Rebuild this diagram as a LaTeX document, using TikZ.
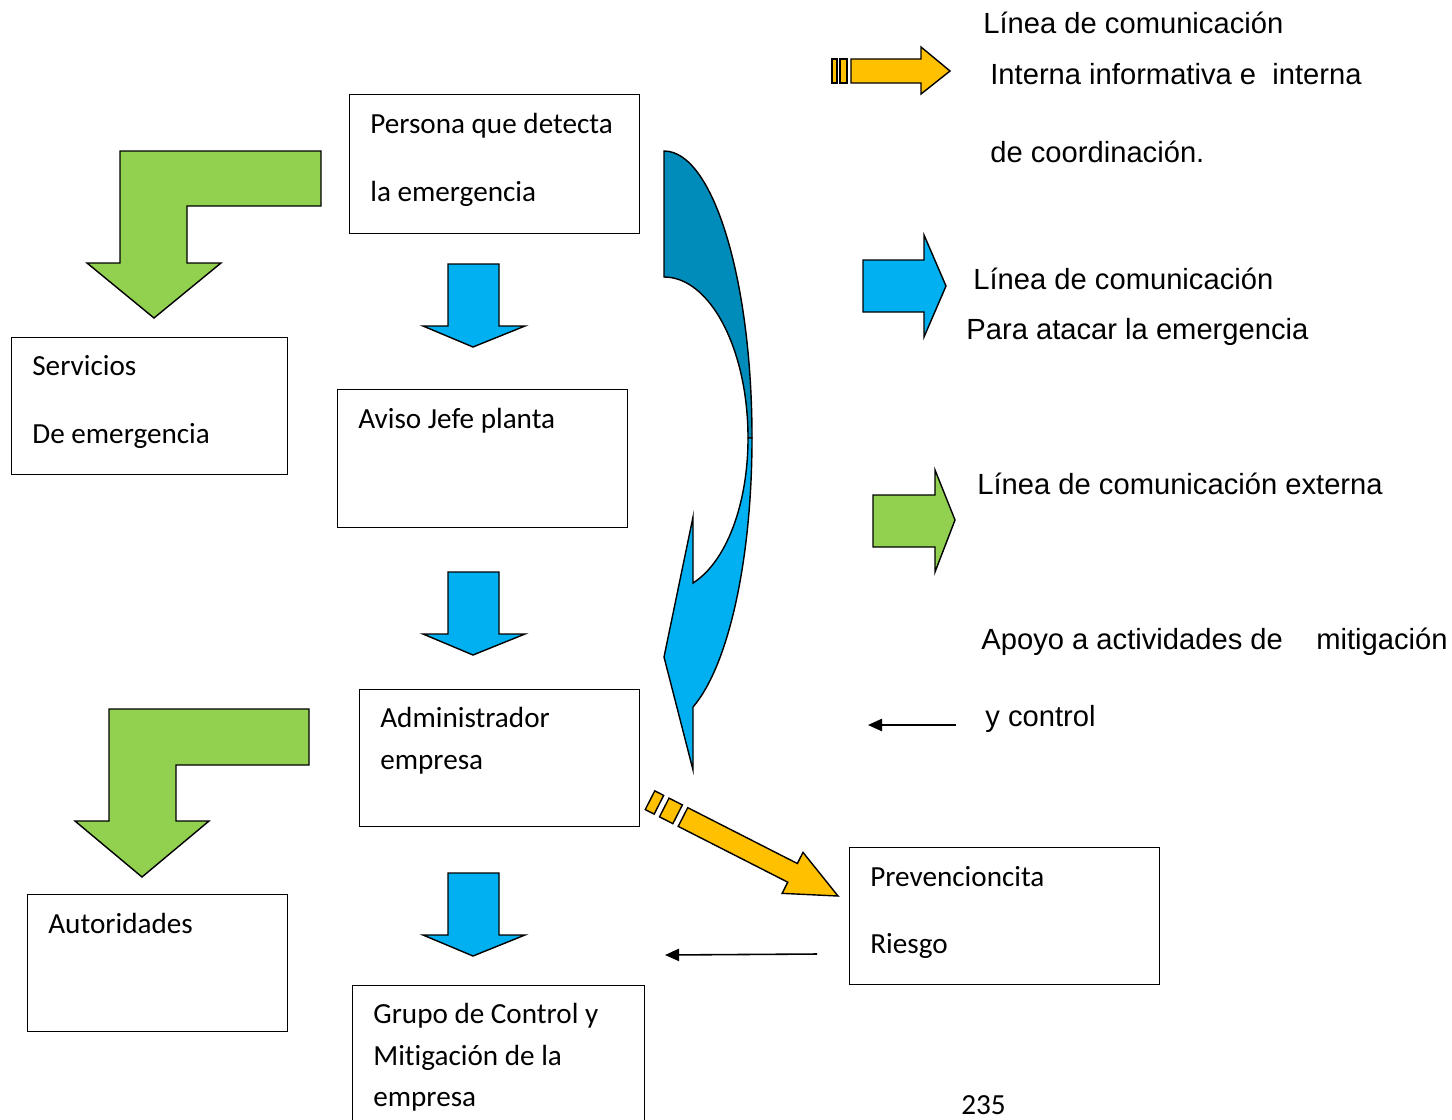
\documentclass[tikz,border=0pt]{standalone}
\usepackage{fontspec}
\setmainfont{Carlito}[Ligatures=NoCommon]
\newfontfamily\arialfont{Liberation Sans}
\usepackage{tikz}
\usetikzlibrary{arrows.meta}
\definecolor{lightblue}{RGB}{0,176,240}
\definecolor{darkblue}{RGB}{0,140,186}
\definecolor{leafgreen}{RGB}{146,208,80}
\definecolor{gold}{RGB}{255,192,0}
\tikzstyle{box}=[draw=black, line width=0.8pt, anchor=north west, inner sep=0pt]
\tikzstyle{boxtext}=[anchor=base west, inner sep=0pt, font=\fontsize{16.6}{20}\selectfont]
\tikzstyle{legend}=[anchor=base west, inner sep=0pt, font=\arialfont\fontsize{16.6}{20}\selectfont]
\tikzstyle{blockarrow}=[draw=black, line width=0.8pt, line join=miter]
\tikzstyle{thinarrow}=[line width=0.9pt, -{Triangle[length=8pt, width=7pt]}]

\begin{document}
\begin{tikzpicture}[x=0.02cm, y=-0.02cm]
\useasboundingbox (0,0) rectangle (1452,1119);
\clip (0,0) rectangle (1452,1119);

% boxes
\node[box, minimum width=5.8cm, minimum height=2.78cm] (persona) at (349,94) {};
\node[box, minimum width=5.52cm, minimum height=2.74cm] (servicios) at (11,337) {};
\node[box, minimum width=5.8cm, minimum height=2.76cm] (aviso) at (337,389) {};
\node[box, minimum width=5.6cm, minimum height=2.74cm] (admin) at (359,689) {};
\node[box, minimum width=5.2cm, minimum height=2.74cm] (autoridades) at (27,894) {};
\node[box, minimum width=5.84cm, minimum height=3.2cm] (grupo) at (352,985) {};
\node[box, minimum width=6.2cm, minimum height=2.74cm] (prevencion) at (849,847) {};

\node[boxtext] (persona-1) at (370,133) {Persona que detecta};
\node[boxtext] (persona-2) at (370,201) {la emergencia};
\node[boxtext] (servicios-1) at (32,375) {Servicios};
\node[boxtext] (servicios-2) at (32,443) {De emergencia};
\node[boxtext] (aviso-1) at (358,428) {Aviso Jefe planta};
\node[boxtext] (admin-1) at (380,727) {Administrador};
\node[boxtext] (admin-2) at (380,769) {empresa};
\node[boxtext] (autoridades-1) at (48,933) {Autoridades};
\node[boxtext] (grupo-1) at (373,1023) {Grupo de Control y};
\node[boxtext] (grupo-2) at (373,1065) {Mitigación de la};
\node[boxtext] (grupo-3) at (373,1106) {empresa};
\node[boxtext] (prevencion-1) at (870,886) {Prevencioncita};
\node[boxtext] (prevencion-2) at (870,953) {Riesgo};
\node[boxtext] (pagina) at (961,1114) {235};

% legend
\node[legend] (interna-1) at (983,33) {Línea de comunicación};
\node[legend] (interna-2) at (990,84) {Interna informativa e \ interna};
\node[legend] (interna-3) at (990,162) {de coordinación.};
\node[legend] (atacar-1) at (973,289) {Línea de comunicación};
\node[legend] (atacar-2) at (966,339) {Para atacar la emergencia};
\node[legend] (externa-1) at (977,494) {Línea de comunicación externa};
\node[legend] (apoyo-1) at (981,649) {Apoyo a actividades de\hspace{19pt}mitigación};
\node[legend] (apoyo-2) at (985,726) {y control};

% blue arrows down
\draw[blockarrow, fill=lightblue] (448,264) -- (499,264) -- (499,326) -- (525,326) -- (473,347) -- (423,326) -- (448,326) -- cycle;
\draw[blockarrow, fill=lightblue] (448,572) -- (499,572) -- (499,634) -- (525,634) -- (473,655) -- (423,634) -- (448,634) -- cycle;
\draw[blockarrow, fill=lightblue] (448,873) -- (499,873) -- (499,935) -- (525,935) -- (473,956) -- (423,935) -- (448,935) -- cycle;

% green bent arrows
\draw[blockarrow, fill=leafgreen] (120,151) -- (321,151) -- (321,206) -- (187,206) -- (187,263) -- (221,263) -- (154,318) -- (87,263) -- (120,263) -- cycle;
\draw[blockarrow, fill=leafgreen] (109,709) -- (309,709) -- (309,765) -- (176,765) -- (176,821) -- (209,821) -- (142,877) -- (75,821) -- (109,821) -- cycle;

% curved arrow
\draw[blockarrow, fill=darkblue] (664,151) .. controls (713,151) and (752,280) .. (752,438) -- (748,438) .. controls (748,349) and (710,277) .. (664,277) -- cycle;
\draw[blockarrow, fill=lightblue] (748,438) .. controls (748,505) and (726,562) .. (693,583) -- (693,517) -- (664,657) -- (693,770) -- (693,707) .. controls (729,665) and (752,558) .. (752,438) -- cycle;

% striped arrow to prevencion
\begin{scope}[shift={(838,896)}, rotate=-27]
\draw[blockarrow, fill=gold] (-211,-10.5) rectangle (-201,10.5);
\draw[blockarrow, fill=gold] (-195,-10.5) rectangle (-180,10.5);
\draw[blockarrow, fill=gold] (-174,-10.5) -- (-51,-10.5) -- (-51,-23) -- (0,0) -- (-51,23) -- (-51,10.5) -- (-174,10.5) -- cycle;
\end{scope}

% legend arrows
\draw[blockarrow, fill=gold] (832,59) rectangle (837,83);
\draw[blockarrow, fill=gold] (840,59) rectangle (847,83);
\draw[blockarrow, fill=gold] (851,59) -- (921,59) -- (921,47) -- (950,71) -- (921,94) -- (921,83) -- (851,83) -- cycle;
\draw[blockarrow, fill=lightblue] (863,260) -- (924,260) -- (924,235) -- (946,286) -- (924,337) -- (924,312) -- (863,312) -- cycle;
\draw[blockarrow, fill=leafgreen] (873,495) -- (935,495) -- (935,470) -- (955,520) -- (935,572) -- (935,547) -- (873,547) -- cycle;

% thin arrows
\coordinate (apoyo-s) at (956,725);
\coordinate (apoyo-e) at (868,725);
\coordinate (riesgo-s) at (817,954);
\coordinate (riesgo-e) at (665,955);
\draw[thinarrow] (apoyo-s) -- (apoyo-e);
\draw[thinarrow] (riesgo-s) -- (riesgo-e);
\end{tikzpicture}
\end{document}
